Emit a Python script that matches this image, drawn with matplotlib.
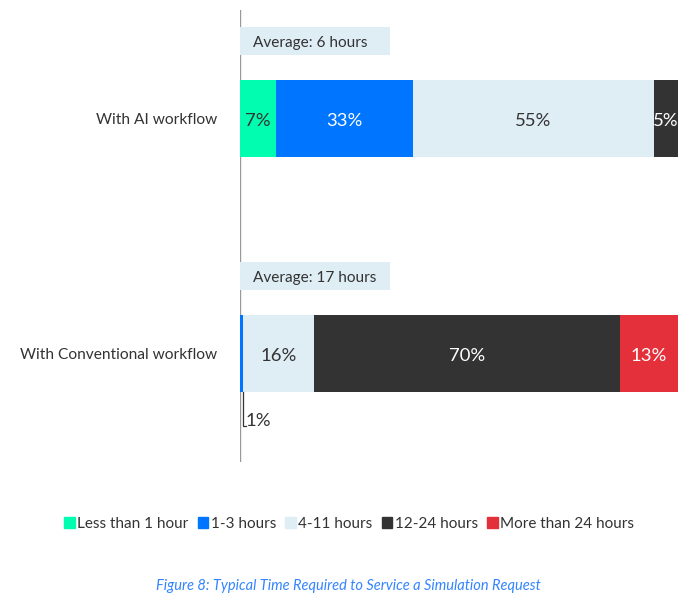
import matplotlib.pyplot as plt

plt.rcParams['font.family'] = ['Lato', 'DejaVu Sans']

workflows = ['With AI workflow', 'With Conventional workflow']
categories = ['Less than 1 hour', '1-3 hours', '4-11 hours', '12-24 hours', 'More than 24 hours']
# segment widths as drawn (percent) and printed labels
ai_widths = [8.2, 31.3, 55.0, 5.5, 0.0]
ai_labels = ['7%', '33%', '55%', '5%', '']
conv_widths = [0.0, 0.7, 16.2, 69.9, 13.2]
conv_labels = ['', '1%', '16%', '70%', '13%']
averages = ['Average: 6 hours', 'Average: 17 hours']

colors = ['#00FDB0', '#0075FF', '#DFEDF5', '#333333', '#E4303A']
text_colors = ['#333333', 'white', '#333333', 'white', 'white']

fig = plt.figure(figsize=(6.94, 6.0), dpi=100)
ax = fig.add_axes([0.346, 0.23, 0.631, 0.753])

rows = [(ai_widths, ai_labels), (conv_widths, conv_labels)]
bar_h = 0.328
for i, (widths, labels) in enumerate(rows):
    left = 0
    for j, (w, lab) in enumerate(zip(widths, labels)):
        if w > 0:
            ax.barh(i, w, left=left, height=bar_h, color=colors[j], zorder=2)
            if w > 3:
                ax.text(left + w / 2, i + 0.005, lab, ha='center', va='center_baseline',
                        color=text_colors[j], fontsize=13.3, zorder=3)
        left += w
    # average box
    ax.barh(i - 0.33, 34.2, left=0, height=0.119, color='#DFEDF5', zorder=2)
    ax.text(3.0, i - 0.33, averages[i], ha='left', va='center_baseline',
            color='#333333', fontsize=11.1, zorder=3)

# callout for the tiny 1% segment
x1 = conv_widths[1] / 2 + 0.2
ax.plot([x1, x1, x1 + 0.9], [1 + bar_h / 2, 1.31, 1.31], color='#333333', lw=0.9, zorder=3)
ax.text(x1 + 0.8, 1.28, conv_labels[1], ha='left', va='center_baseline',
        color='#333333', fontsize=13.3)

ax.axvline(0, color='#999999', lw=1, zorder=0)
ax.set_xlim(0, 100)
ax.set_ylim(1.462, -0.462)
ax.set_yticks([0, 1])
ax.set_yticklabels(workflows, fontsize=11.2, color='#333333', va='center_baseline')
ax.tick_params(axis='y', length=0, pad=16.5)
ax.set_xticks([])
for s in ax.spines.values():
    s.set_visible(False)

handles = [plt.Rectangle((0, 0), 1, 1, color=c) for c in colors]
fig.legend(handles, categories, loc='center', bbox_to_anchor=(0.503, 0.127), ncol=5,
           frameon=False, handlelength=0.7, handleheight=0.7, handletextpad=0.15,
           columnspacing=0.6, fontsize=11, labelcolor='#333333')

fig.text(0.502, 0.024, 'Figure 8: Typical Time Required to Service a Simulation Request',
         ha='center', va='center', style='italic', color='#3385FF', fontsize=10.5)

fig.savefig('out.png', dpi=100)
